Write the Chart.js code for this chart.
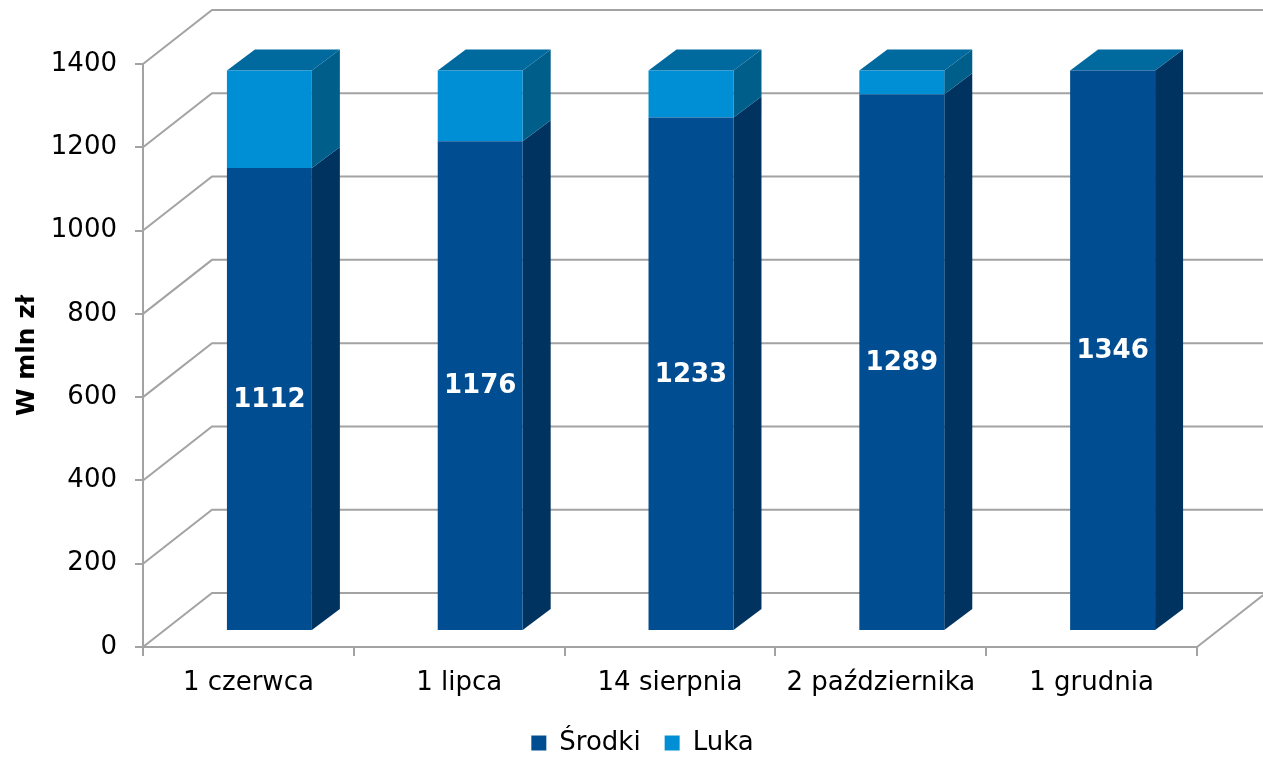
<!DOCTYPE html>
<html lang="pl">

<head>
    <meta charset="UTF-8">
    <title>Środki i luka</title>
    <script src="https://cdn.jsdelivr.net/npm/chart.js"></script>
    <style>
        body { margin: 0; background: #fff; }
        #wrap { width: 1263px; height: 757px; }
    </style>
</head>

<body>
    <div id="wrap"><canvas id="myChart" width="1263" height="757"></canvas></div>

    <script>
        // dane
        const categories = ['1 czerwca', '1 lipca', '14 sierpnia', '2 października', '1 grudnia'];
        const srodki = [1112, 1176, 1233, 1289, 1346];
        const luka = [234, 170, 113, 57, 0];
        const yTicks = [0, 200, 400, 600, 800, 1000, 1200, 1400];

        const FONT = '"DejaVu Sans", Verdana, sans-serif';
        const GRID = '#a3a3a3';

        // glebokosc sciany i slupkow
        const WALL_DX = 69, WALL_DY = -54;
        const BAR_SHIFT_X = 21, BAR_SHIFT_Y = -16;
        const BAR_DX = 28, BAR_DY = -21;
        const LEGEND_SHIFT = 44;

        const shades = [
            { front: '#004d91', side: '#003360', top: '#00699d' },
            { front: '#008ed4', side: '#005e8a', top: '#00699d' }
        ];

        // sciany, linie siatki, trzeci wymiar
        const fake3d = {
            id: 'fake3d',
            afterLayout(chart) {
                // legenda nieco w prawo, jak w oryginale
                chart.legend.left += LEGEND_SHIFT;
                chart.legend.right += LEGEND_SHIFT;
            },
            beforeDatasetsDraw(chart) {
                const ctx = chart.ctx;
                const a = chart.chartArea;
                const ys = chart.scales.y;
                ctx.save();
                ctx.strokeStyle = GRID;
                ctx.lineWidth = 2;
                yTicks.forEach(v => {
                    const y = ys.getPixelForValue(v);
                    ctx.beginPath();
                    ctx.moveTo(a.left, y);
                    ctx.lineTo(a.left + WALL_DX, y + WALL_DY);
                    ctx.lineTo(a.right + WALL_DX + 10, y + WALL_DY);
                    ctx.stroke();
                });
                // prawa krawedz podlogi
                ctx.beginPath();
                ctx.moveTo(a.right, a.bottom);
                ctx.lineTo(a.right + WALL_DX, a.bottom + WALL_DY);
                ctx.stroke();
                ctx.restore();

                // przesuniecie slupkow w glab
                ctx.save();
                ctx.translate(BAR_SHIFT_X, BAR_SHIFT_Y);
                const metas = chart.getSortedVisibleDatasetMetas();
                metas.forEach((meta, di) => {
                    meta.data.forEach((bar, i) => {
                        const p = bar.getProps(['x', 'y', 'base', 'width'], true);
                        if (Math.abs(p.base - p.y) < 0.5) return;
                        const r = p.x + p.width / 2;
                        const l = p.x - p.width / 2;
                        ctx.fillStyle = shades[di].side;
                        ctx.beginPath();
                        ctx.moveTo(r, p.y);
                        ctx.lineTo(r + BAR_DX, p.y + BAR_DY);
                        ctx.lineTo(r + BAR_DX, p.base + BAR_DY);
                        ctx.lineTo(r, p.base);
                        ctx.closePath();
                        ctx.fill();
                        // gorna sciana tylko na najwyzszym segmencie
                        const above = metas.slice(di + 1).some(m => {
                            const q = m.data[i].getProps(['y', 'base'], true);
                            return Math.abs(q.base - q.y) >= 0.5;
                        });
                        if (!above) {
                            ctx.fillStyle = shades[di].top;
                            ctx.beginPath();
                            ctx.moveTo(l, p.y);
                            ctx.lineTo(l + BAR_DX, p.y + BAR_DY);
                            ctx.lineTo(r + BAR_DX, p.y + BAR_DY);
                            ctx.lineTo(r, p.y);
                            ctx.closePath();
                            ctx.fill();
                        }
                    });
                });
            },
            afterDatasetsDraw(chart) {
                const ctx = chart.ctx;
                const meta = chart.getDatasetMeta(0);
                ctx.fillStyle = '#ffffff';
                ctx.font = 'bold 26px ' + FONT;
                ctx.textAlign = 'center';
                ctx.textBaseline = 'middle';
                meta.data.forEach((bar, i) => {
                    const p = bar.getProps(['x', 'y', 'base'], true);
                    ctx.fillText(String(srodki[i]), p.x, (p.y + p.base) / 2 + 1);
                });
                ctx.restore();
            }
        };

        const ctx = document.getElementById('myChart').getContext('2d');
        window.myChart = new Chart(ctx, {
            type: 'bar',
            data: {
                labels: categories,
                datasets: [{
                    label: 'Środki',
                    data: srodki,
                    backgroundColor: shades[0].front,
                    borderWidth: 0,
                    categoryPercentage: 1,
                    barPercentage: 0.403,
                    clip: false
                }, {
                    label: 'Luka',
                    data: luka,
                    backgroundColor: shades[1].front,
                    borderWidth: 0,
                    categoryPercentage: 1,
                    barPercentage: 0.403,
                    clip: false
                }]
            },
            options: {
                responsive: false,
                animation: false,
                devicePixelRatio: 1,
                layout: {
                    padding: { left: 0, right: 66, top: 64, bottom: -9 }
                },
                plugins: {
                    tooltip: { enabled: false },
                    legend: {
                        position: 'bottom',
                        labels: {
                            color: '#000',
                            font: { family: FONT, size: 26 },
                            boxWidth: 15,
                            boxHeight: 15,
                            padding: 24
                        }
                    }
                },
                scales: {
                    x: {
                        stacked: true,
                        offset: true,
                        grid: {
                            offset: true,
                            drawOnChartArea: false,
                            color: GRID,
                            lineWidth: 2,
                            tickLength: 9
                        },
                        border: { color: GRID, width: 2 },
                        ticks: {
                            color: '#000',
                            font: { family: FONT, size: 26 },
                            padding: 12,
                            maxRotation: 0
                        },
                        afterFit(scale) { scale.height = 59; }
                    },
                    y: {
                        stacked: true,
                        min: 0,
                        max: 1400,
                        grid: {
                            drawOnChartArea: false,
                            color: GRID,
                            lineWidth: 2,
                            tickLength: 8
                        },
                        border: { color: GRID, width: 2 },
                        ticks: {
                            stepSize: 200,
                            color: '#000',
                            font: { family: FONT, size: 26 },
                            padding: 18,
                            callback: v => String(v)
                        },
                        title: {
                            display: true,
                            text: 'W mln zł',
                            color: '#000',
                            font: { family: FONT, size: 25, weight: 'bold' },
                            padding: { top: 12, bottom: 0 }
                        },
                        afterFit(scale) { scale.width = 143; }
                    }
                }
            },
            plugins: [fake3d]
        });
    </script>
</body>

</html>
